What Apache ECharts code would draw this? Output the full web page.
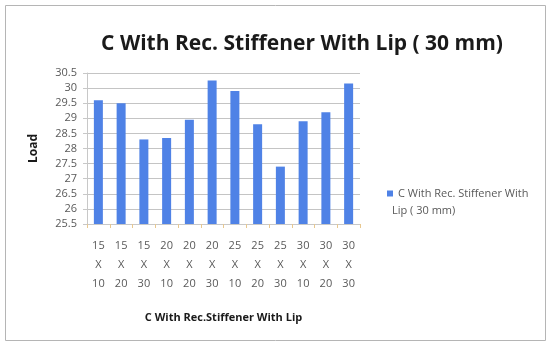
<!DOCTYPE html>
<html>
<head>
<meta charset="utf-8">
<script src="https://cdn.jsdelivr.net/npm/echarts@6/dist/echarts.min.js"></script>
<style>
  html, body { margin: 0; padding: 0; background: #fff; }
  #chart { width: 549px; height: 345px; }
</style>
</head>
<body>
<div id="chart"></div>
<script>
// sizes: width x length
const categories = ['15\nX\n10', '15\nX\n20', '15\nX\n30', '20\nX\n10', '20\nX\n20', '20\nX\n30',
                    '25\nX\n10', '25\nX\n20', '25\nX\n30', '30\nX\n10', '30\nX\n20', '30\nX\n30'];
const loads = [29.6, 29.5, 28.3, 28.35, 28.95, 30.25, 29.9, 28.8, 27.4, 28.9, 29.2, 30.15];
const seriesName = 'C With Rec. Stiffener With Lip ( 30 mm)';

var dom = document.getElementById('chart');
var myChart = echarts.init(dom, null, { renderer: 'canvas' });

const option = {
    animation: false,
    title: {
        text: seriesName,
        left: 297,
        top: 29,
        textAlign: 'center',
        textStyle: {
            fontFamily: 'Open Sans',
            fontSize: 21,
            fontWeight: 'bold',
            color: '#1a1a1a'
        }
    },
    graphic: [{
        type: 'rect',
        shape: { x: 5.5, y: 5.5, width: 540, height: 335 },
        style: { fill: 'none', stroke: '#b5b5b5', lineWidth: 1 }
    }, {
        // second line of the legend label
        type: 'text',
        left: 392,
        top: 205,
        style: {
            text: 'Lip ( 30 mm)',
            font: '11px "Open Sans"',
            fill: '#595959'
        }
    }],
    legend: {
        left: 382,
        top: 183,
        icon: 'rect',
        itemWidth: 6,
        itemHeight: 6,
        itemGap: 4,
        formatter: function () { return 'C With Rec. Stiffener With'; },
        textStyle: {
            fontFamily: 'Open Sans',
            fontSize: 11,
            color: '#595959'
        }
    },
    grid: { left: 87, right: 189, top: 73, bottom: 121 },
    xAxis: {
        type: 'category',
        data: categories,
        name: 'C With Rec.Stiffener With Lip',
        nameLocation: 'middle',
        nameGap: 88,
        nameTextStyle: {
            fontFamily: 'Open Sans',
            fontSize: 11,
            fontWeight: 'bold',
            color: '#1a1a1a'
        },
        axisLine: { lineStyle: { color: '#c8c8c8' } },
        axisTick: { show: true, length: 4, lineStyle: { color: '#e8c890' } },
        axisLabel: {
            interval: 0,
            margin: 12,
            fontFamily: 'Open Sans',
            fontSize: 11,
            lineHeight: 19,
            color: '#595959'
        }
    },
    yAxis: {
        type: 'value',
        min: 25.5,
        max: 30.5,
        interval: 0.5,
        name: 'Load',
        nameLocation: 'middle',
        nameGap: 47,
        nameRotate: 90,
        nameTextStyle: {
            fontFamily: 'Open Sans',
            fontSize: 12,
            fontWeight: 'bold',
            color: '#1a1a1a'
        },
        axisLine: { show: true, lineStyle: { color: '#c8c8c8' } },
        axisTick: { show: true, length: 4, lineStyle: { color: '#c8c8c8' } },
        axisLabel: {
            margin: 10,
            fontFamily: 'Open Sans',
            fontSize: 11,
            color: '#595959'
        },
        splitLine: { lineStyle: { color: '#c4c4c4' } }
    },
    series: [{
        name: seriesName,
        type: 'bar',
        data: loads,
        barWidth: 9,
        itemStyle: { color: '#4F82E6' }
    }]
};

myChart.setOption(option);
</script>
</body>
</html>
